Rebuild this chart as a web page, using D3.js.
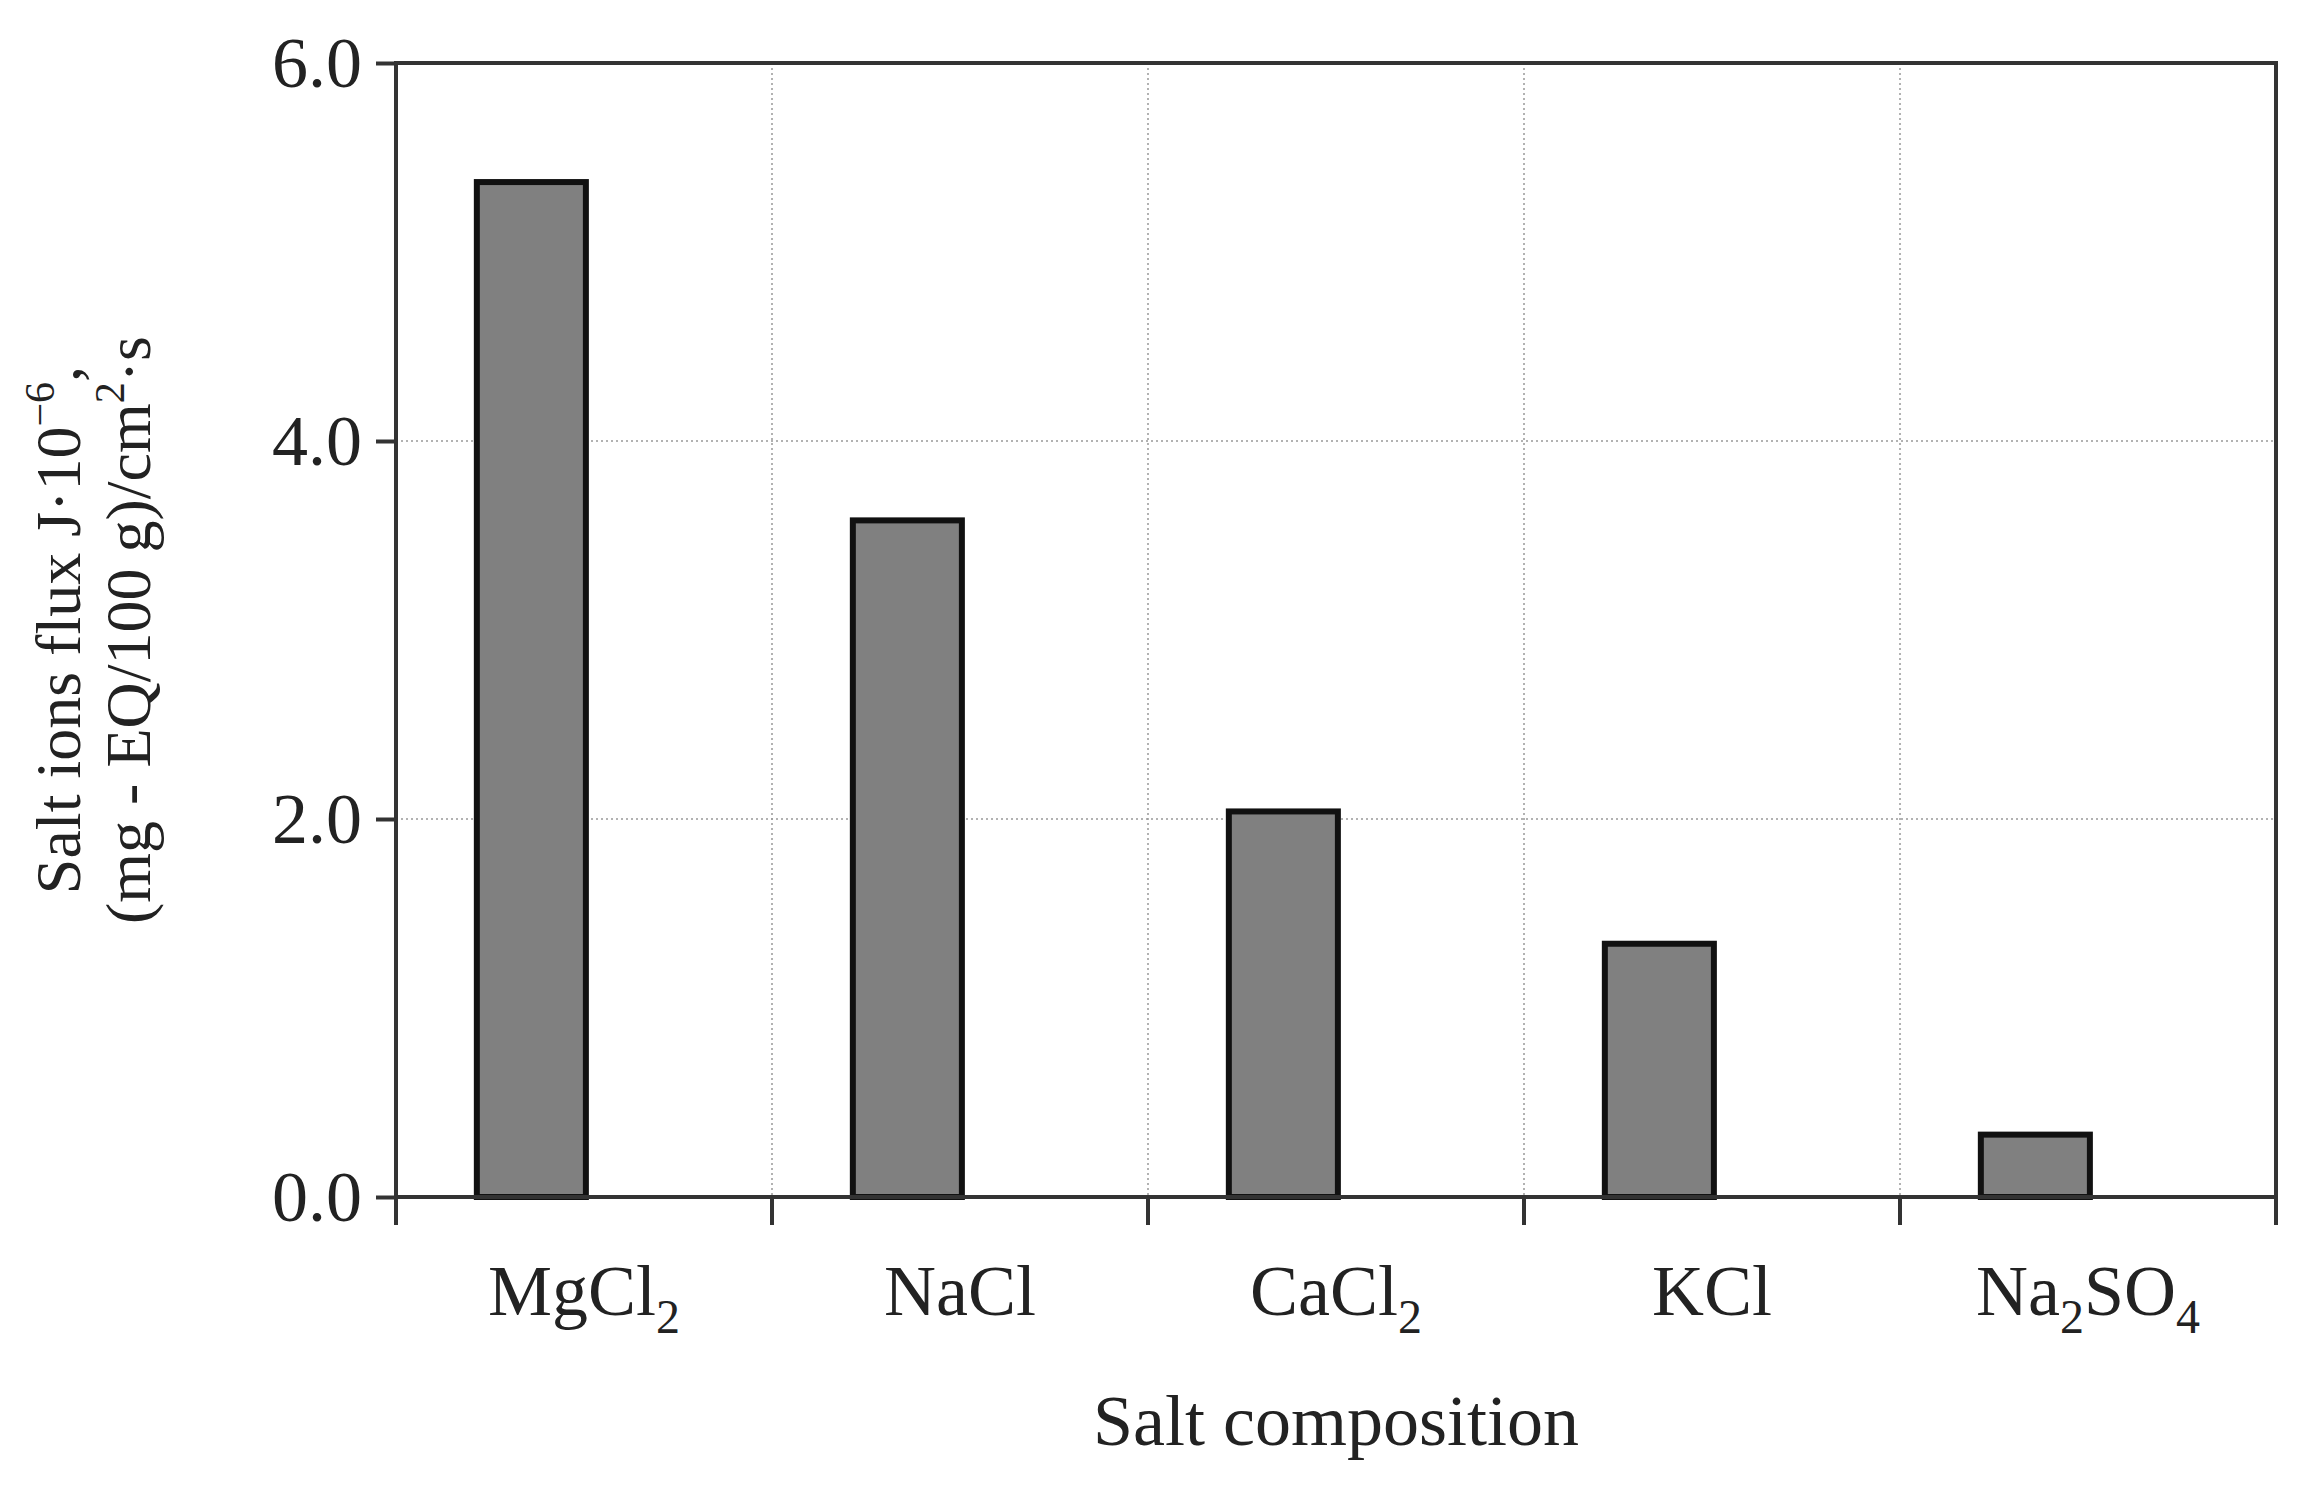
<!DOCTYPE html>
<html>
<head>
<meta charset="utf-8">
<script src="https://cdn.jsdelivr.net/npm/d3@7"></script>
<style>
  body { margin: 0; background: #fff; }
  text { font-family: "Liberation Serif", "DejaVu Serif", serif; fill: #222; }
</style>
</head>
<body>
<svg id="chart"></svg>
<script>
const salts = ["MgCl2", "NaCl", "CaCl2", "KCl", "Na2SO4"]
// label parts: [text, isSubscript]
const saltLabels = [
  [["MgCl", 0], ["2", 1]],
  [["NaCl", 0]],
  [["CaCl", 0], ["2", 1]],
  [["KCl", 0]],
  [["Na", 0], ["2", 1], ["SO", 0], ["4", 1]]
]
const flux = [5.37, 3.58, 2.04, 1.34, 0.33]
const yTicks = [0, 2, 4, 6]

const width = 2317, height = 1491
const margin = {top: 63, right: 41, bottom: 294, left: 396}

const svg = d3.select("#chart").attr("width", width).attr("height", height)

const x = d3.scaleBand().domain(salts).range([margin.left, width - margin.right])
const y = d3.scaleLinear().domain([0, 6]).range([height - margin.bottom, margin.top])

/// Grid ///
const grid = svg.append("g")
grid.selectAll(".hg").data([2, 4]).join("line")
  .attr("x1", margin.left).attr("x2", width - margin.right)
  .attr("y1", d => y(d)).attr("y2", d => y(d))
  .attr("stroke", "#999").attr("stroke-width", 1.5).attr("stroke-dasharray", "2,3")
grid.selectAll(".vg").data(salts.slice(1)).join("line")
  .attr("x1", d => x(d)).attr("x2", d => x(d))
  .attr("y1", margin.top).attr("y2", y(0))
  .attr("stroke", "#999").attr("stroke-width", 1.5).attr("stroke-dasharray", "2,3")

/// Bars ///
const bw = x.bandwidth()
svg.append("g").selectAll("rect").data(flux).join("rect")
  .attr("x", (d, i) => x(salts[i]) + bw * 0.215)
  .attr("width", bw * 0.29)
  .attr("y", d => y(d))
  .attr("height", d => y(0) - y(d))
  .attr("fill", "#808080").attr("stroke", "#111").attr("stroke-width", 6)

/// Frame ///
svg.append("rect")
  .attr("x", margin.left).attr("y", margin.top)
  .attr("width", width - margin.left - margin.right)
  .attr("height", height - margin.top - margin.bottom)
  .attr("fill", "none").attr("stroke", "#333").attr("stroke-width", 4)

/// Y axis ///
const yAxis = svg.append("g").attr("transform", `translate(${margin.left},0)`)
  .call(d3.axisLeft(y).tickValues(yTicks).tickSize(20).tickPadding(14))
yAxis.select(".domain").remove()
yAxis.selectAll("line").attr("stroke", "#333").attr("stroke-width", 4)
yAxis.selectAll("text").attr("font-size", 72).attr("font-family", "Liberation Serif").attr("fill", "#222")

/// X axis ticks ///
svg.append("g").selectAll("line").data(d3.range(salts.length + 1)).join("line")
  .attr("x1", i => margin.left + i * bw).attr("x2", i => margin.left + i * bw)
  .attr("y1", y(0)).attr("y2", y(0) + 28)
  .attr("stroke", "#333").attr("stroke-width", 4)

const xl = svg.append("g").selectAll("text").data(saltLabels).join("text")
  .attr("x", (d, i) => x(salts[i]) + bw / 2)
  .attr("y", y(0) + 118)
  .attr("text-anchor", "middle").attr("font-size", 72)
xl.each(function(parts) {
  const t = d3.select(this)
  parts.forEach(p => {
    t.append("tspan").text(p[0])
      .attr("font-size", p[1] ? 48 : 72)
      .attr("dy", p[1] ? 18 : 0)
  })
  // reset dy after subscript
  t.selectAll("tspan").each(function(p, j, nodes) {
    if (j > 0 && parts[j - 1][1] && !parts[j][1]) d3.select(this).attr("dy", -18)
  })
})

svg.append("text")
  .attr("x", (margin.left + width - margin.right) / 2).attr("y", 1445)
  .attr("text-anchor", "middle").attr("font-size", 72)
  .text("Salt composition")

/// Y title ///
const yc = (margin.top + y(0)) / 2
const yt = svg.append("g").attr("transform", `translate(0,${yc}) rotate(-90)`)
const l1 = yt.append("text").attr("x", 0).attr("y", 80).attr("text-anchor", "middle").attr("font-size", 64)
l1.append("tspan").text("Salt ions flux J·10")
l1.append("tspan").text("−6").attr("font-size", 42).attr("dy", -26)
l1.append("tspan").text(",").attr("dy", 26)
const l2 = yt.append("text").attr("x", 0).attr("y", 150).attr("text-anchor", "middle").attr("font-size", 64)
l2.append("tspan").text("(mg - EQ/100 g)/cm")
l2.append("tspan").text("2").attr("font-size", 42).attr("dy", -26)
l2.append("tspan").text("·s").attr("dy", 26)
</script>
</body>
</html>
